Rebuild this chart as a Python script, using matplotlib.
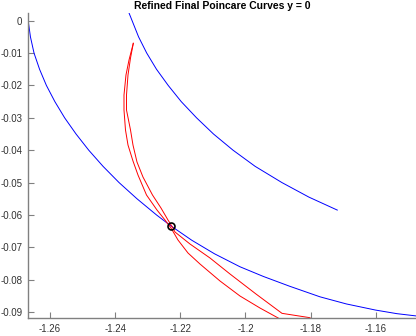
import numpy as np
import matplotlib
matplotlib.use("Agg")
from matplotlib import pyplot as plt

plt.rcParams['font.family'] = ['Liberation Sans', 'DejaVu Sans']

# Blue curves
blue1_x = [-1.2667, -1.2660, -1.2649, -1.2632, -1.2611, -1.2585, -1.2555, -1.2520,
           -1.2481, -1.2437, -1.2388, -1.2333, -1.2273, -1.2230, -1.2165, -1.2095,
           -1.2017, -1.1945, -1.1865, -1.1771, -1.1690, -1.1600, -1.1535, -1.1476]
blue1_y = [0.0, -0.005, -0.010, -0.015, -0.020, -0.025, -0.030, -0.035,
           -0.040, -0.045, -0.050, -0.055, -0.060, -0.0633, -0.0678, -0.072,
           -0.076, -0.079, -0.082, -0.0853, -0.0875, -0.0894, -0.0905, -0.0912]

blue2_x = [-1.2357, -1.2328, -1.2303, -1.2273, -1.2237, -1.2197, -1.2150, -1.2098,
           -1.2038, -1.1970, -1.1888, -1.1805, -1.1718]
blue2_y = [0.0023, -0.005, -0.010, -0.015, -0.020, -0.025, -0.030, -0.035,
           -0.040, -0.045, -0.050, -0.0545, -0.0585]

# Red curves
red1_x = [-1.23442, -1.23574, -1.23667, -1.23728, -1.23728, -1.23682, -1.23605, -1.23452,
          -1.23298, -1.23037, -1.22715, -1.22469, -1.22285, -1.2207, -1.21763, -1.21395,
          -1.2078, -1.20166, -1.19552, -1.18938]
red1_y = [-0.00698, -0.01214, -0.01677, -0.02295, -0.02759, -0.03376, -0.0384, -0.04334,
          -0.04767, -0.05384, -0.05848, -0.06157, -0.06404, -0.06775, -0.07176, -0.07516,
          -0.08041, -0.08505, -0.08876, -0.09215]

red2_x = [-1.23442, -1.23528, -1.23605, -1.23651, -1.23651, -1.23528, -1.23452, -1.23329,
          -1.23145, -1.22853, -1.22592, -1.22377, -1.22224, -1.22162, -1.21702, -1.21087,
          -1.20473, -1.19675, -1.18877, -1.18017]
red2_y = [-0.00698, -0.01152, -0.01677, -0.02295, -0.02759, -0.03376, -0.0384, -0.04365,
          -0.04829, -0.05384, -0.05786, -0.06157, -0.06404, -0.06528, -0.06898, -0.07331,
          -0.07825, -0.08443, -0.0904, -0.09175]

# Marked point
pt_x = [-1.22294]
pt_y = [-0.06333]

xticks = [-1.26, -1.24, -1.22, -1.2, -1.18, -1.16]
xticklabels = ['-1.26', '-1.24', '-1.22', '-1.2', '-1.18', '-1.16']
yticks = [0, -0.01, -0.02, -0.03, -0.04, -0.05, -0.06, -0.07, -0.08, -0.09]
yticklabels = ['0', '-0.01', '-0.02', '-0.03', '-0.04', '-0.05', '-0.06', '-0.07', '-0.08', '-0.09']

fig = plt.figure(figsize=(4.16, 3.36), dpi=100)
ax = fig.add_axes([28 / 416, 18 / 336, 388 / 416, 304.7 / 336])

ax.plot(blue1_x, blue1_y, color='#0000ff', lw=0.7)
ax.plot(blue2_x, blue2_y, color='#0000ff', lw=0.7)
ax.plot(red1_x, red1_y, color='#ff0000', lw=0.7)
ax.plot(red2_x, red2_y, color='#ff0000', lw=0.7)
ax.plot(pt_x, pt_y, 'o', mfc='none', mec='black', ms=5, mew=1.2)

ax.set_xlim(-1.26675, -1.14763)
ax.set_ylim(-0.09184, 0.00229)
ax.set_xticks(xticks)
ax.set_xticklabels(xticklabels)
ax.set_yticks(yticks)
ax.set_yticklabels(yticklabels)

for s in ['top', 'right']:
    ax.spines[s].set_visible(False)
for s in ['left', 'bottom']:
    ax.spines[s].set_color('#808080')
    ax.spines[s].set_linewidth(1.0)
ax.tick_params(direction='in', length=4, width=0.8, color='#808080',
               labelsize=7, labelcolor='#333333', pad=4)

ax.set_title('Refined Final Poincare Curves y = 0', fontsize=7.5,
             fontweight='bold', pad=3)

fig.savefig('out.png', dpi=100)
